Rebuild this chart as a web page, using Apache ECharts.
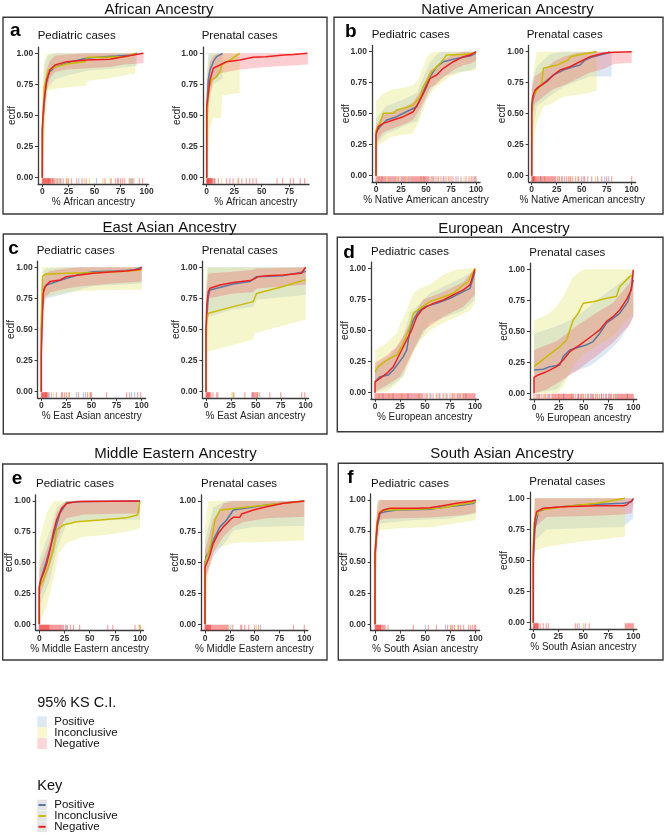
<!DOCTYPE html>
<html><head><meta charset="utf-8">
<script src="https://cdn.jsdelivr.net/npm/echarts@6/dist/echarts.min.js"></script>
<style>html,body{margin:0;padding:0;background:#fff}#c{width:667px;height:837px}</style>
</head><body><div id="c"></div><script>
// ---------- tick labels ----------
const xTicks = [0, 25, 50, 75, 100];
const yTicks = [0, 0.25, 0.5, 0.75, 1];
const groupNames = ['Positive', 'Inconclusive', 'Negative'];

// ---------- a: African ----------
const aPedPos = [[0,0],[0,0.38],[1,0.5],[2.5,0.68],[4.2,0.77],[7,0.85],[12,0.89],[26.5,0.93],[42.5,0.96],[55,0.97],[71,0.978],[87,0.987],[90.5,1]];
const aPedInc = [[0,0],[0.5,0.4],[1.9,0.73],[5.8,0.866],[13.7,0.893],[23.3,0.914],[41,0.933],[43,0.968],[61.7,0.968],[80.8,0.973],[88.8,1]];
const aPedNeg = [[0,0],[0,0.4],[1.5,0.6],[4.2,0.786],[7.3,0.866],[12.1,0.906],[23.3,0.933],[42.5,0.946],[64.9,0.952],[77.6,0.973],[87,0.987],[96.8,1]];
const aPedPosCI = [[0,0.15,0.6],[2,0.5,0.9],[5,0.72,0.98],[12,0.79,1],[27,0.83,1],[43,0.86,1],[70,0.88,1],[90.5,0.9,1]];
const aPedIncCI = [[0,0.05,0.7],[2,0.3,0.95],[5,0.7,1],[15,0.72,1],[42,0.74,1],[43,0.78,1],[65,0.8,1],[89,0.84,1]];
const aPedNegCI = [[0,0.3,0.5],[2,0.52,0.75],[4.2,0.7,0.87],[7.3,0.8,0.94],[12.1,0.85,0.98],[23,0.87,0.99],[43,0.88,1],[65,0.89,1],[78,0.91,1],[97,0.92,1]];
const aPedPosRug = [10,15,18,35,52,85,87];
const aPedIncRug = [6,13,16,24,40,45,58,65,83,88];
const aPedNegRug = [0,0.5,1,1.5,2,2.5,3,3.5,4,4.5,5,5.5,6,6.5,7,7.5,8,9,10,11,12,14,17,20,23,25,28,33,38,42,60,66,70,72,73,75,77,79,84,86,93,96];

const aPrePos = [[0,0],[0,0.544],[1.5,0.786],[3,0.866],[6,0.933],[9,0.973],[14.5,1]];
const aPreInc = [[0,0],[0.6,0.57],[2.4,0.73],[4.5,0.786],[9,0.81],[12,0.853],[13.6,0.906],[21,0.946],[30,1]];
const aPreNeg = [[0,0],[0,0.57],[1.5,0.678],[3,0.786],[6,0.88],[12,0.906],[18,0.933],[30,0.946],[42,0.968],[54,0.973],[70,0.987],[79,0.99],[91.5,1]];
const aPrePosCI = [[0,0.3,0.8],[1.5,0.55,1],[3,0.65,1],[6,0.75,1],[14.5,0.8,1]];
const aPreIncCI = [[0,0.1,0.85],[3,0.4,1],[6,0.48,1],[13,0.48,1],[14,0.66,1],[30,0.68,1]];
const aPreNegCI = [[0,0.4,0.75],[1.5,0.55,0.85],[3,0.68,0.93],[6,0.78,0.98],[12,0.84,1],[30,0.87,1],[54,0.89,1],[92,0.91,1]];
const aPrePosRug = [3,7];
const aPreIncRug = [2,5,13.6,28];
const aPreNegRug = [0,0.3,0.6,1,1.3,1.6,2,2.5,3,3.5,4,4.5,5,6,7.6,10.6,18,21,24,29,32,36,39,42,45,64,69,76,79,85,89];

// ---------- b: Native American ----------
const bPedPos = [[0,0],[0,0.35],[4,0.395],[10.7,0.449],[20.7,0.476],[34,0.53],[40.7,0.556],[47.3,0.677],[54,0.798],[60.7,0.879],[67.3,0.919],[80.7,0.946],[94,0.965],[100,0.987]];
const bPedInc = [[0,0],[0,0.37],[4,0.422],[7.3,0.503],[17.3,0.503],[20.7,0.53],[30.7,0.551],[37.3,0.57],[44,0.637],[47.3,0.718],[52.3,0.785],[55.7,0.839],[64,0.906],[70.7,0.973],[87.3,0.978],[99,0.99],[100,1]];
const bPedNeg = [[0,0],[0,0.33],[2.3,0.395],[7.3,0.422],[17.3,0.449],[27.3,0.476],[37.3,0.516],[44,0.61],[49,0.69],[54,0.785],[60.7,0.812],[67.3,0.866],[77.3,0.919],[87.3,0.96],[94,0.973],[100,1]];
const bPedPosCI = [[0,0.25,0.46],[10,0.34,0.56],[20,0.37,0.59],[34,0.42,0.64],[41,0.44,0.67],[47,0.56,0.79],[54,0.68,0.91],[61,0.76,0.98],[67,0.8,1],[81,0.83,1],[94,0.85,1],[100,0.87,1]];
const bPedIncCI = [[0,0.23,0.6],[7,0.27,0.66],[14,0.31,0.69],[27,0.33,0.71],[37,0.34,0.73],[42,0.42,0.77],[47,0.52,0.88],[51,0.61,0.95],[54,0.66,0.99],[61,0.72,1],[74,0.8,1],[87,0.84,1],[100,0.85,1]];
const bPedNegCI = [[0,0.27,0.4],[7,0.35,0.49],[17,0.38,0.52],[27,0.41,0.55],[37,0.45,0.59],[44,0.54,0.68],[49,0.62,0.76],[54,0.71,0.85],[61,0.74,0.88],[67,0.79,0.93],[77,0.85,0.98],[87,0.89,1],[94,0.9,1],[100,0.93,1]];
const bPedPosRug = [6,16,27,34,48,58,67,82,99];
const bPedIncRug = [3,11,21,31,45,56,63,72,88,95];
const bPedNegRug = [0,1,2,3,4,5,6,7,8,9,10,12,13,14,15,17,18,19,20,22,23,25,26,28,29,30,32,33,35,36,37,38,39,40,41,42,43,44,45,46,47,48,49,50,51,52,53,55,57,60,62,65,68,70,73,75,77,80,85,90,93,96,98,100];

const bPrePos = [[0,0],[0,0.5],[1,0.61],[5,0.704],[11.7,0.745],[21.7,0.812],[31.7,0.852],[41.7,0.879],[48.3,0.892],[53.3,0.933],[61.7,0.96],[75,0.987],[78,1]];
const bPreInc = [[0,0],[0,0.55],[1,0.637],[6.7,0.704],[10,0.745],[11.7,0.866],[25,0.892],[36.7,0.933],[38.3,0.96],[51.7,0.981],[65,1]];
const bPreNeg = [[0,0],[0,0.556],[1,0.637],[3.3,0.69],[8.3,0.723],[15,0.758],[21.7,0.812],[28.3,0.852],[38.3,0.879],[48.3,0.919],[58.3,0.96],[71.7,0.987],[81.7,0.995],[100,1]];
const bPrePosCI = [[0,0.3,0.75],[5,0.56,0.88],[18,0.64,0.98],[32,0.72,1],[48,0.77,1],[58,0.8,1],[68,0.8,1],[80,0.8,1]];
const bPreIncCI = [[0,0.1,0.55],[2,0.29,0.85],[5,0.42,1],[8,0.48,1],[12,0.56,1],[18,0.57,1],[25,0.61,1],[32,0.637,1],[45,0.65,1],[55,0.66,1],[65,0.69,1]];
const bPreNegCI = [[0,0.45,0.7],[3,0.58,0.8],[12,0.64,0.85],[22,0.7,0.92],[32,0.73,0.96],[45,0.78,0.99],[58,0.83,1],[72,0.86,1],[82,0.9,1],[100,0.91,1]];
const bPrePosRug = [2,9,31,52,73,77];
const bPreIncRug = [4,13,27,38,46,64];
const bPreNegRug = [0,0.5,1,1.5,2,2.5,3,4,5,6,7,8,9,10,11,12,13,14,15,16,17,18,19,20,21,22,23,24,26,28,30,33,35,37,39,41,44,47,50,53,56,60,66,70,75,80,100];

// ---------- c: East Asian ----------
const cPedPos = [[0,0],[0,0.5],[2,0.818],[5.3,0.858],[15.3,0.885],[25.3,0.912],[42,0.952],[52,0.965],[75,0.97],[92,0.979],[100,1]];
const cPedInc = [[0,0],[0,0.6],[1.3,0.925],[3.7,0.944],[25,0.952],[52,0.957],[75,0.965],[100,0.979]];
const cPedNeg = [[0,0],[0,0.3],[1,0.576],[2,0.79],[3.7,0.845],[8.7,0.885],[18.7,0.898],[25,0.925],[38.3,0.938],[51.7,0.952],[71.7,0.965],[85,0.97],[98.3,0.984],[100,1]];
const cPedPosCI = [[0,0.2,0.8],[2,0.65,0.97],[5,0.75,0.99],[25,0.79,1],[42,0.83,1],[52,0.85,1],[100,0.87,1]];
const cPedIncCI = [[0,0.2,0.9],[1,0.6,1],[3,0.76,1],[9,0.77,1],[25,0.8,1],[42,0.81,1],[60,0.815,1],[100,0.82,1]];
const cPedNegCI = [[0,0.2,0.5],[1,0.45,0.75],[2,0.7,0.9],[4,0.76,0.95],[9,0.8,0.97],[25,0.83,0.99],[38,0.845,1],[52,0.855,1],[72,0.87,1],[100,0.885,1]];
const cPedPosRug = [8,10,35,42,44,90,93];
const cPedIncRug = [5,12,27,48];
const cPedNegRug = [0,0.5,1,1.5,2,2.5,3,3.5,4,4.5,5,5.5,6,7,15,20,21,23,25,28,37,46,49,50,65,85,88,96,99];

const cPrePos = [[0,0],[0,0.5],[2.3,0.764],[4,0.818],[27.3,0.866],[44,0.885],[50.7,0.925],[77.3,0.933],[99,0.965],[100,0.97]];
const cPreInc = [[0,0],[0,0.4],[0.7,0.576],[2.3,0.63],[27.3,0.684],[47.4,0.724],[50.7,0.79],[77.3,0.845],[99,0.898],[100,0.9]];
const cPreNeg = [[0,0],[0,0.5],[0.7,0.684],[2.3,0.804],[4,0.831],[14,0.858],[27.3,0.877],[44,0.893],[47.4,0.903],[52.3,0.925],[60.7,0.933],[77.3,0.938],[95.7,0.952],[99,0.99],[100,1]];
const cPrePosCI = [[0,0.3,0.8],[2,0.6,1],[27,0.66,1],[47,0.68,1],[51,0.74,1],[100,0.78,1]];
const cPreIncCI = [[0,0.05,0.9],[1,0.32,1],[47,0.42,1],[49,0.47,1],[100,0.58,1]];
const cPreNegCI = [[0,0.3,0.7],[1,0.55,0.85],[2.3,0.75,0.95],[27,0.79,0.965],[47,0.8,0.98],[51,0.83,0.99],[100,0.86,1]];
const cPrePosRug = [47,54];
const cPreIncRug = [26,27,52];
const cPreNegRug = [0,0.5,1,1.5,2,2.5,3,3.5,4,5,7,10.7,12,28,39,46,47,48,49,50,51,52,64,75,96,99];

// ---------- d: European ----------
const dPedPos = [[0,0.088],[5,0.129],[13.3,0.142],[18.3,0.182],[23.3,0.236],[28.3,0.29],[31.7,0.343],[35,0.504],[38.3,0.584],[43.3,0.651],[50,0.692],[61.7,0.718],[75,0.759],[88.3,0.812],[95,0.839],[100,0.973]];
const dPedInc = [[0,0.169],[3.3,0.209],[10,0.249],[15,0.276],[21.7,0.303],[28.3,0.397],[35,0.531],[38.3,0.638],[45,0.678],[55,0.732],[65,0.759],[78.3,0.799],[88.3,0.866],[93.3,0.893],[100,1]];
const dPedNeg = [[0,0],[0,0.088],[5,0.115],[11.7,0.155],[18.3,0.209],[21.7,0.263],[26.7,0.343],[31.7,0.424],[36.7,0.504],[41.7,0.611],[46.7,0.665],[51.7,0.692],[58.3,0.718],[68.3,0.745],[78.3,0.786],[88.3,0.826],[95,0.866],[100,0.992]];
const dPedPosCI = [[0,0,0.21],[15,0.05,0.3],[21.7,0.09,0.37],[28.3,0.13,0.45],[35,0.29,0.64],[55,0.56,0.8],[88.3,0.66,0.93],[100,0.75,0.99]];
const dPedIncCI = [[0,0,0.34],[11.7,0.01,0.4],[21.7,0.07,0.48],[25,0.1,0.55],[31.7,0.18,0.66],[38.3,0.32,0.8],[45,0.42,0.84],[55,0.5,0.87],[68.3,0.56,0.95],[81.7,0.61,0.99],[95,0.66,1],[100,0.72,1]];
const dPedNegCI = [[0,0.01,0.24],[11.7,0.06,0.3],[21.7,0.11,0.37],[25,0.13,0.41],[35,0.28,0.56],[38.3,0.34,0.62],[48.3,0.5,0.75],[68.3,0.61,0.81],[88.3,0.69,0.89],[100,0.79,1]];
const dPedPosRug = [8,18,33,39,47,56,64,71,84,91];
const dPedIncRug = [4,14,27,44,52,61,69,79,88];
const dPedNegRug = [0,1,2,3,4,5,6,7,8,9,10,11,12,13,14,15,16,17,18,19,20,21,22,23,24,25,26,27,28,29,30,31,32,33,34,35,36,37,38,40,41,42,43,44,45,46,48,50,52,55,58,62,65,68,72,75,77,78,80,82,83,85,86,88,89,90,91,92,93,94,95,96,97,98,99,100];

const dPrePos = [[0,0.188],[9.4,0.194],[16,0.215],[26,0.228],[29.4,0.296],[36.1,0.349],[46.2,0.376],[52.8,0.39],[59.5,0.417],[66.2,0.484],[72.9,0.565],[79.6,0.605],[86.3,0.645],[94.6,0.739],[100,0.914]];
const dPreInc = [[0,0.215],[12.7,0.296],[26,0.376],[32.8,0.43],[39.5,0.591],[44.5,0.645],[49.5,0.726],[59.5,0.739],[72.9,0.766],[83,0.78],[86.3,0.86],[96.3,0.941],[100,0.954]];
const dPreNeg = [[0,0],[0,0.129],[4.3,0.148],[12.7,0.175],[22.7,0.215],[29.4,0.269],[36.1,0.336],[46.2,0.39],[52.8,0.43],[59.5,0.47],[66.2,0.511],[72.9,0.578],[79.6,0.618],[86.3,0.672],[93,0.753],[98,0.833],[100,0.995]];
const dPrePosCI = [[0,0,0.48],[22.7,0.03,0.54],[36.1,0.16,0.59],[42.5,0.18,0.62],[56.2,0.22,0.7],[62.9,0.26,0.75],[72.9,0.32,0.81],[86.3,0.43,0.89],[96.3,0.56,0.95],[100,0.62,1]];
const dPreIncCI = [[0,0,0.59],[12.7,0,0.63],[22.7,0,0.7],[29.4,0.05,0.78],[39.5,0.22,0.94],[49.5,0.32,1],[62.9,0.38,1],[79.6,0.46,1],[89.6,0.56,1],[100,0.65,1]];
const dPreNegCI = [[0,0,0.35],[12.7,0.03,0.39],[22.7,0.08,0.42],[42.5,0.18,0.54],[62.9,0.3,0.65],[79.6,0.41,0.73],[96.3,0.55,0.89],[100,0.62,1]];
const dPrePosRug = [5,15,30,45,58,68,76,83,94];
const dPreIncRug = [3,11,25,38,49,63,81];
const dPreNegRug = [0,2,4,6,8,10,12,14,16,18,19,20,21,22,23,24,25,26,27,28,29,30,31,32,33,34,35,36,37,38,39,40,42,44,45,47,48,50,52,54,55,57,59,60,62,64,66,68,70,72,73,75,77,78,80,82,84,85,86,87,88,89,90,91,92,93,94,95,96,97,98,99,100];

// ---------- e: Middle Eastern ----------
const ePedPos = [[0,0],[0,0.3],[2.3,0.386],[7.3,0.52],[13.9,0.71],[20.5,0.9],[27.2,0.986],[43.7,0.995],[100,1]];
const ePedInc = [[0,0],[0,0.28],[0.7,0.305],[4,0.36],[8.9,0.467],[13.9,0.6],[17.2,0.765],[23.8,0.805],[37,0.832],[60.3,0.846],[86.8,0.865],[97.4,0.886],[100,0.995]];
const ePedNeg = [[0,0],[0,0.305],[1.3,0.36],[4,0.41],[7.3,0.49],[10.6,0.6],[13.9,0.74],[17.2,0.846],[22.2,0.94],[27.2,0.98],[37,0.995],[100,1]];
const ePedPosCI = [[0,0.14,0.52],[10.6,0.36,0.76],[17.2,0.6,0.95],[27,0.82,1],[44,0.84,1],[100,0.85,1]];
const ePedIncCI = [[0,0,0.68],[7,0.14,0.9],[14,0.36,0.995],[20,0.58,1],[27,0.66,1],[44,0.71,1],[60,0.72,1],[87,0.75,1],[100,0.78,1]];
const ePedNegCI = [[0,0.22,0.44],[10.6,0.47,0.68],[17.2,0.68,0.9],[23.8,0.83,0.98],[27,0.86,1],[44,0.89,1],[100,0.9,1]];
const ePedPosRug = [23,27];
const ePedIncRug = [99,100];
const ePedNegRug = [0,0.5,1,1.5,2,2.5,3,3.5,4,4.5,5,5.5,6,6.5,7,7.5,8,8.5,9,9.5,10,11,12,13,14,15,16,17,18,19,20,21,22,24,26,28,31,34,40,68,73,95,100];

const ePrePos = [[0,0],[0,0.5],[1,0.55],[3.4,0.576],[8.4,0.684],[15.1,0.79],[21.8,0.846],[28.5,0.927],[38.6,0.94],[62.1,0.968],[100,1]];
const ePreInc = [[0,0],[0,0.45],[0.7,0.52],[3.4,0.576],[6.7,0.684],[10.1,0.846],[15.1,0.927],[28.5,0.94],[45.3,0.954],[78.9,0.981],[100,1]];
const ePreNeg = [[0,0],[0,0.46],[1.7,0.495],[4.4,0.55],[8.4,0.657],[13.4,0.738],[18.5,0.79],[25.2,0.846],[28.5,0.868],[35.2,0.868],[36.9,0.895],[48.7,0.927],[62.1,0.954],[78.9,0.981],[100,1]];
const ePrePosCI = [[0,0.36,0.68],[8.4,0.55,0.95],[21.8,0.68,1],[28.5,0.76,1],[48.7,0.79,1],[100,0.8,1]];
const ePreIncCI = [[0,0,0.79],[3.4,0.41,1],[8.4,0.58,1],[15.1,0.63,1],[21.8,0.64,1],[28.5,0.66,1],[62,0.67,1],[100,0.68,1]];
const ePreNegCI = [[0,0.36,0.6],[8.4,0.58,0.85],[18.5,0.71,0.98],[28.5,0.79,1],[38.6,0.83,1],[62,0.86,1],[100,0.873,1]];
const ePrePosRug = [26,56];
const ePreIncRug = [24,52];
const ePreNegRug = [0,0.5,1,1.5,2,2.5,3,3.5,4,4.5,5,5.5,6,7,8,9,10,11,12,13,14,15,16,17,18,19,20,21,22,23,28,36,37,40,44,50,54,89,100];

// ---------- f: South Asian ----------
const fPedPos = [[0,0],[0,0.55],[2.3,0.786],[5,0.893],[10,0.906],[21.5,0.92],[54.6,0.925],[71.2,0.946],[87.7,0.96],[97.7,0.973],[100,0.992]];
const fPedInc = [[0,0],[0,0.6],[1.7,0.81],[4.3,0.906],[11.6,0.92],[38,0.925],[64.6,0.933],[81.1,0.96],[97.7,0.979],[100,1]];
const fPedNeg = [[0,0],[0,0.558],[1,0.678],[2.3,0.81],[4.3,0.893],[8.3,0.92],[14.9,0.933],[38,0.933],[54.6,0.938],[71.2,0.96],[81.1,0.973],[94.4,0.987],[100,1]];
const fPedPosCI = [[0,0.2,0.45],[2,0.6,0.9],[5,0.81,1],[38,0.84,1],[71.2,0.85,1],[100,0.89,1]];
const fPedIncCI = [[0,0.1,0.5],[1,0.41,0.8],[3,0.7,1],[5,0.76,1],[21.5,0.77,1],[54.6,0.78,1],[71.2,0.8,1],[87.7,0.82,1],[100,0.84,1]];
const fPedNegCI = [[0,0.3,0.6],[2,0.7,0.95],[3.3,0.83,1],[8.3,0.85,1],[54.6,0.86,1],[87.7,0.88,1],[100,0.9,1]];
const fPedPosRug = [50,70];
const fPedIncRug = [76,82];
const fPedNegRug = [0,0.5,1,1.5,2,2.5,3,3.5,4,4.5,5,5.5,6,7,8,9,10,13,38,53,61,72,75,77,79,83,85,88,93,95,97,99,100];

const fPrePos = [[0,0],[0,0.5],[0.7,0.611],[1.7,0.759],[5,0.893],[13.3,0.92],[46.7,0.946],[90,0.96],[98.3,0.973],[100,1]];
const fPreInc = [[0,0],[0,0.6],[0.7,0.8],[3.3,0.866],[6.7,0.906],[30,0.933],[63.3,0.96],[91.7,1]];
const fPreNeg = [[0,0],[0,0.558],[0.7,0.69],[1.7,0.826],[3.3,0.893],[10,0.92],[30,0.933],[63.3,0.941],[90,0.941],[93.3,0.946],[100,0.992]];
const fPrePosCI = [[0,0.2,0.6],[1.7,0.66,1],[13.3,0.75,1],[46.7,0.76,1],[90,0.77,1],[98.3,0.83,1],[100,0.83,1]];
const fPreIncCI = [[0,0.1,0.7],[0.7,0.34,1],[1.7,0.58,1],[13.3,0.61,1],[46.7,0.65,1],[91.7,0.69,1]];
const fPreNegCI = [[0,0.35,0.65],[1.7,0.77,1],[13.3,0.85,1],[63.3,0.86,1],[90,0.87,1],[98.3,0.88,1],[100,0.95,1]];
const fPrePosRug = [46];
const fPreIncRug = [50];
const fPreNegRug = [0,0.5,1,1.5,2,2.5,3,3.5,4,4.5,5,7,10,13,15,42,44,52,56,92,93,94,95,96,97,98,99,100];

// ---------- styles ----------
const FONT = 'Liberation Sans, Arial, Helvetica, sans-serif';
const lineColors = ['#5779a6', '#c9bc00', '#ef1f1f'];
const bandColors = ['rgba(120,165,215,0.25)', 'rgba(225,225,90,0.30)', 'rgba(240,80,90,0.28)'];
const rugColors = ['rgba(90,130,190,0.55)', 'rgba(210,195,40,0.65)', 'rgba(240,30,30,0.5)'];
const ciLegendColors = ['#dde8f4', '#f8f7d0', '#fcd6d8'];

// plot specs: layout L = [px of x=0, px per x unit, px of y=1, px of y=0, xmin, xmax]
const plots = [
  {sub:'Pediatric cases', xname:'% African ancestry', lines:[aPedPos,aPedInc,aPedNeg], ci:[aPedPosCI,aPedIncCI,aPedNegCI], rug:[aPedPosRug,aPedIncRug,aPedNegRug], L:[42.3,1.044,53.3,177.7,-4,102], sx:37.7, sy:36},
  {sub:'Prenatal cases', xname:'% African ancestry', lines:[aPrePos,aPreInc,aPreNeg], ci:[aPrePosCI,aPreIncCI,aPreNegCI], rug:[aPrePosRug,aPreIncRug,aPreNegRug], L:[206.7,1.1,53.3,177.7,-3.5,93], sx:201.7, sy:36},
  {sub:'Pediatric cases', xname:'% Native American ancestry', lines:[bPedPos,bPedInc,bPedNeg], ci:[bPedPosCI,bPedIncCI,bPedNegCI], rug:[bPedPosRug,bPedIncRug,bPedNegRug], L:[376,1.0,51.7,175.7,-4,104], sx:371.7, sy:34.5},
  {sub:'Prenatal cases', xname:'% Native American ancestry', lines:[bPrePos,bPreInc,bPreNeg], ci:[bPrePosCI,bPreIncCI,bPreNegCI], rug:[bPrePosRug,bPreIncRug,bPreNegRug], L:[531.7,1.0,51.7,175.7,-3,104], sx:526.7, sy:34.5},
  {sub:'Pediatric cases', xname:'% East Asian ancestry', lines:[cPedPos,cPedInc,cPedNeg], ci:[cPedPosCI,cPedIncCI,cPedNegCI], rug:[cPedPosRug,cPedIncRug,cPedNegRug], L:[41.3,1.004,267.3,391.7,-3.6,104], sx:36.7, sy:251},
  {sub:'Prenatal cases', xname:'% East Asian ancestry', lines:[cPrePos,cPreInc,cPreNeg], ci:[cPrePosCI,cPreIncCI,cPreNegCI], rug:[cPrePosRug,cPreIncRug,cPreNegRug], L:[206,0.997,267.3,391.7,-3.6,103], sx:201.7, sy:251},
  {sub:'Pediatric cases', xname:'% European ancestry', lines:[dPedPos,dPedInc,dPedNeg], ci:[dPedPosCI,dPedIncCI,dPedNegCI], rug:[dPedPosRug,dPedIncRug,dPedNegRug], L:[375,1.0,268.3,392.7,-4,103.5], sx:371, sy:252},
  {sub:'Prenatal cases', xname:'% European ancestry', lines:[dPrePos,dPreInc,dPreNeg], ci:[dPrePosCI,dPreIncCI,dPreNegCI], rug:[dPrePosRug,dPreIncRug,dPreNegRug], L:[534,0.993,269.3,393.3,-4,103.5], sx:529.3, sy:253},
  {sub:'Pediatric cases', xname:'% Middle Eastern ancestry', lines:[ePedPos,ePedInc,ePedNeg], ci:[ePedPosCI,ePedIncCI,ePedNegCI], rug:[ePedPosRug,ePedIncRug,ePedNegRug], L:[39.3,1.007,501,624.3,-3.6,103.5], sx:36, sy:483.5},
  {sub:'Prenatal cases', xname:'% Middle Eastern ancestry', lines:[ePrePos,ePreInc,ePreNeg], ci:[ePrePosCI,ePreIncCI,ePreNegCI], rug:[ePrePosRug,ePreIncRug,ePreNegRug], L:[205,0.993,501,624.3,-4,103.5], sx:201, sy:483.5},
  {sub:'Pediatric cases', xname:'% South Asian ancestry', lines:[fPedPos,fPedInc,fPedNeg], ci:[fPedPosCI,fPedIncCI,fPedNegCI], rug:[fPedPosRug,fPedIncRug,fPedNegRug], L:[375,1.007,500,624.3,-4.3,104], sx:371, sy:483.5},
  {sub:'Prenatal cases', xname:'% South Asian ancestry', lines:[fPrePos,fPreInc,fPreNeg], ci:[fPrePosCI,fPreIncCI,fPreNegCI], rug:[fPrePosRug,fPreIncRug,fPreNegRug], L:[533.3,1.0,498.3,622.7,-3.5,103.5], sx:529.3, sy:482}
];

const panelTitles = [
  {t:'African Ancestry', x:159, y:10},
  {t:'Native American Ancestry', x:507.5, y:10},
  {t:'East Asian Ancestry', x:169.5, y:227.5},
  {t:'European  Ancestry', x:504, y:229},
  {t:'Middle Eastern Ancestry', x:175.5, y:454},
  {t:'South Asian Ancestry', x:502, y:453.8}
];
const panelLetters = [
  {t:'a', x:10, y:30.7}, {t:'b', x:345, y:31.7}, {t:'c', x:8.3, y:249},
  {t:'d', x:343.3, y:252.4}, {t:'e', x:11.7, y:479}, {t:'f', x:347.3, y:477.4}
];
const panelBoxes = [
  [3,17.3,324,196.7], [334,17.3,329,196.7],
  [3.3,234,323.7,200], [337.3,237.3,325.7,194.4],
  [2.7,464,324.3,196], [338.3,463.3,324.7,196.7]
];

const YMIN = -0.05, YMAX = 1.05;
const grids = [], xAxes = [], yAxes = [], series = [];
const tickLabelStyle = {fontSize:8.5, fontWeight:'bold', color:'#333', fontFamily:FONT};

plots.forEach((p, i) => {
  const [p0, ux, y1, y0, xmin, xmax] = p.L;
  const uy = y0 - y1;
  grids.push({left: p0 + xmin * ux, top: y1 - (YMAX - 1) * uy, width: (xmax - xmin) * ux, height: (YMAX - YMIN) * uy, containLabel:false});
  xAxes.push({
    type:'value', gridIndex:i, min:xmin, max:xmax,
    name:p.xname, nameLocation:'middle', nameGap:12.5,
    nameTextStyle:{fontSize:10, color:'#222', fontFamily:FONT},
    axisLine:{show:true, onZero:false, lineStyle:{color:'#3a3a3a', width:1.3}},
    axisTick:{show:true, customValues:xTicks, length:3, lineStyle:{color:'#3a3a3a', width:1}},
    axisLabel:Object.assign({customValues:xTicks, margin:3.5}, tickLabelStyle),
    splitLine:{show:false}
  });
  yAxes.push({
    type:'value', gridIndex:i, min:YMIN, max:YMAX,
    name:'ecdf', nameLocation:'middle', nameGap:21, nameRotate:90, nameMoveOverlap:false,
    nameTextStyle:{fontSize:10, color:'#222', fontFamily:FONT},
    axisLine:{show:true, onZero:false, lineStyle:{color:'#3a3a3a', width:1.3}},
    axisTick:{show:true, customValues:yTicks, length:3, lineStyle:{color:'#3a3a3a', width:1}},
    axisLabel:Object.assign({customValues:yTicks, margin:5, formatter:v => v.toFixed(2)}, tickLabelStyle),
    splitLine:{show:false}
  });
  // confidence bands
  p.ci.forEach((band, g) => {
    series.push({
      type:'custom', name:groupNames[g] + ' CI', xAxisIndex:i, yAxisIndex:i, silent:true, z:1, clip:true,
      data:[[band[0][0], band[0][1]]],
      renderItem:(params, api) => {
        const pts = [];
        band.forEach(b => pts.push(api.coord([b[0], b[2]])));
        for (let k = band.length - 1; k >= 0; k--) pts.push(api.coord([band[k][0], band[k][1]]));
        return {type:'polygon', shape:{points:pts}, style:{fill:bandColors[g]}};
      }
    });
  });
  // rugs (drawn just above the x axis line, below y = 0)
  p.rug.forEach((r, g) => {
    series.push({
      type:'scatter', name:groupNames[g] + ' rug', xAxisIndex:i, yAxisIndex:i, silent:true, z:2,
      symbol:'rect', symbolSize:[1.2, 5.5],
      itemStyle:{color:rugColors[g]},
      data:r.map(v => [v, -0.026])
    });
  });
  // ECDF lines
  p.lines.forEach((ln, g) => {
    series.push({
      type:'line', name:groupNames[g], xAxisIndex:i, yAxisIndex:i, silent:true, z:3,
      showSymbol:false, symbol:'none', data:ln,
      lineStyle:{color:lineColors[g], width:1.5}
    });
  });
});

// graphic elements
const graphic = [];
panelBoxes.forEach(b => graphic.push({type:'rect', shape:{x:b[0], y:b[1], width:b[2], height:b[3]}, style:{fill:'transparent', stroke:'#3a3a3a', lineWidth:1.4}, silent:true, z:50}));
panelTitles.forEach(t => graphic.push({type:'text', x:t.x, y:t.y, style:{text:t.t, fontSize:15, fontFamily:FONT, fill:'#111', align:'center', verticalAlign:'middle', textAlign:'center', textVerticalAlign:'middle'}, z:60}));
panelLetters.forEach(t => graphic.push({type:'text', x:t.x, y:t.y, style:{text:t.t, fontSize:19, fontWeight:'bold', fontFamily:FONT, fill:'#000', align:'left', verticalAlign:'middle', textAlign:'left', textVerticalAlign:'middle'}, z:60}));
plots.forEach(p => graphic.push({type:'text', x:p.sx, y:p.sy, style:{text:p.sub, fontSize:11.5, fontFamily:FONT, fill:'#111', align:'left', verticalAlign:'middle', textAlign:'left', textVerticalAlign:'middle'}, z:60}));

// legends
graphic.push({type:'text', x:37.3, y:702.7, style:{text:'95% KS C.I.', fontSize:14.5, fontFamily:FONT, fill:'#111', align:'left', verticalAlign:'middle', textAlign:'left', textVerticalAlign:'middle'}});
const ciRowY = [721.7, 732.6, 743.5];
groupNames.forEach((n, g) => {
  graphic.push({type:'rect', shape:{x:37.3, y:ciRowY[g] - 5.4, width:9.5, height:10.9}, style:{fill:ciLegendColors[g]}});
  graphic.push({type:'text', x:54.3, y:ciRowY[g], style:{text:n, fontSize:11.5, fontFamily:FONT, fill:'#111', align:'left', verticalAlign:'middle', textAlign:'left', textVerticalAlign:'middle'}});
});
graphic.push({type:'text', x:37.3, y:786, style:{text:'Key', fontSize:14.5, fontFamily:FONT, fill:'#111', align:'left', verticalAlign:'middle', textAlign:'left', textVerticalAlign:'middle'}});
const keyRowY = [805, 816, 826.8];
groupNames.forEach((n, g) => {
  graphic.push({type:'rect', shape:{x:37.3, y:keyRowY[g] - 5.3, width:9.5, height:10.6}, style:{fill:'#e4e4e4'}});
  graphic.push({type:'line', shape:{x1:38.5, y1:keyRowY[g], x2:45.6, y2:keyRowY[g]}, style:{stroke:lineColors[g], lineWidth:2}});
  graphic.push({type:'text', x:54.3, y:keyRowY[g], style:{text:n, fontSize:11.5, fontFamily:FONT, fill:'#111', align:'left', verticalAlign:'middle', textAlign:'left', textVerticalAlign:'middle'}});
});

const chart = echarts.init(document.getElementById('c'), null, {renderer:'canvas'});
chart.setOption({
  backgroundColor:'#fff',
  animation:false,
  textStyle:{fontFamily:FONT},
  grid:grids, xAxis:xAxes, yAxis:yAxes, series:series, graphic:graphic
});
</script></body></html>
